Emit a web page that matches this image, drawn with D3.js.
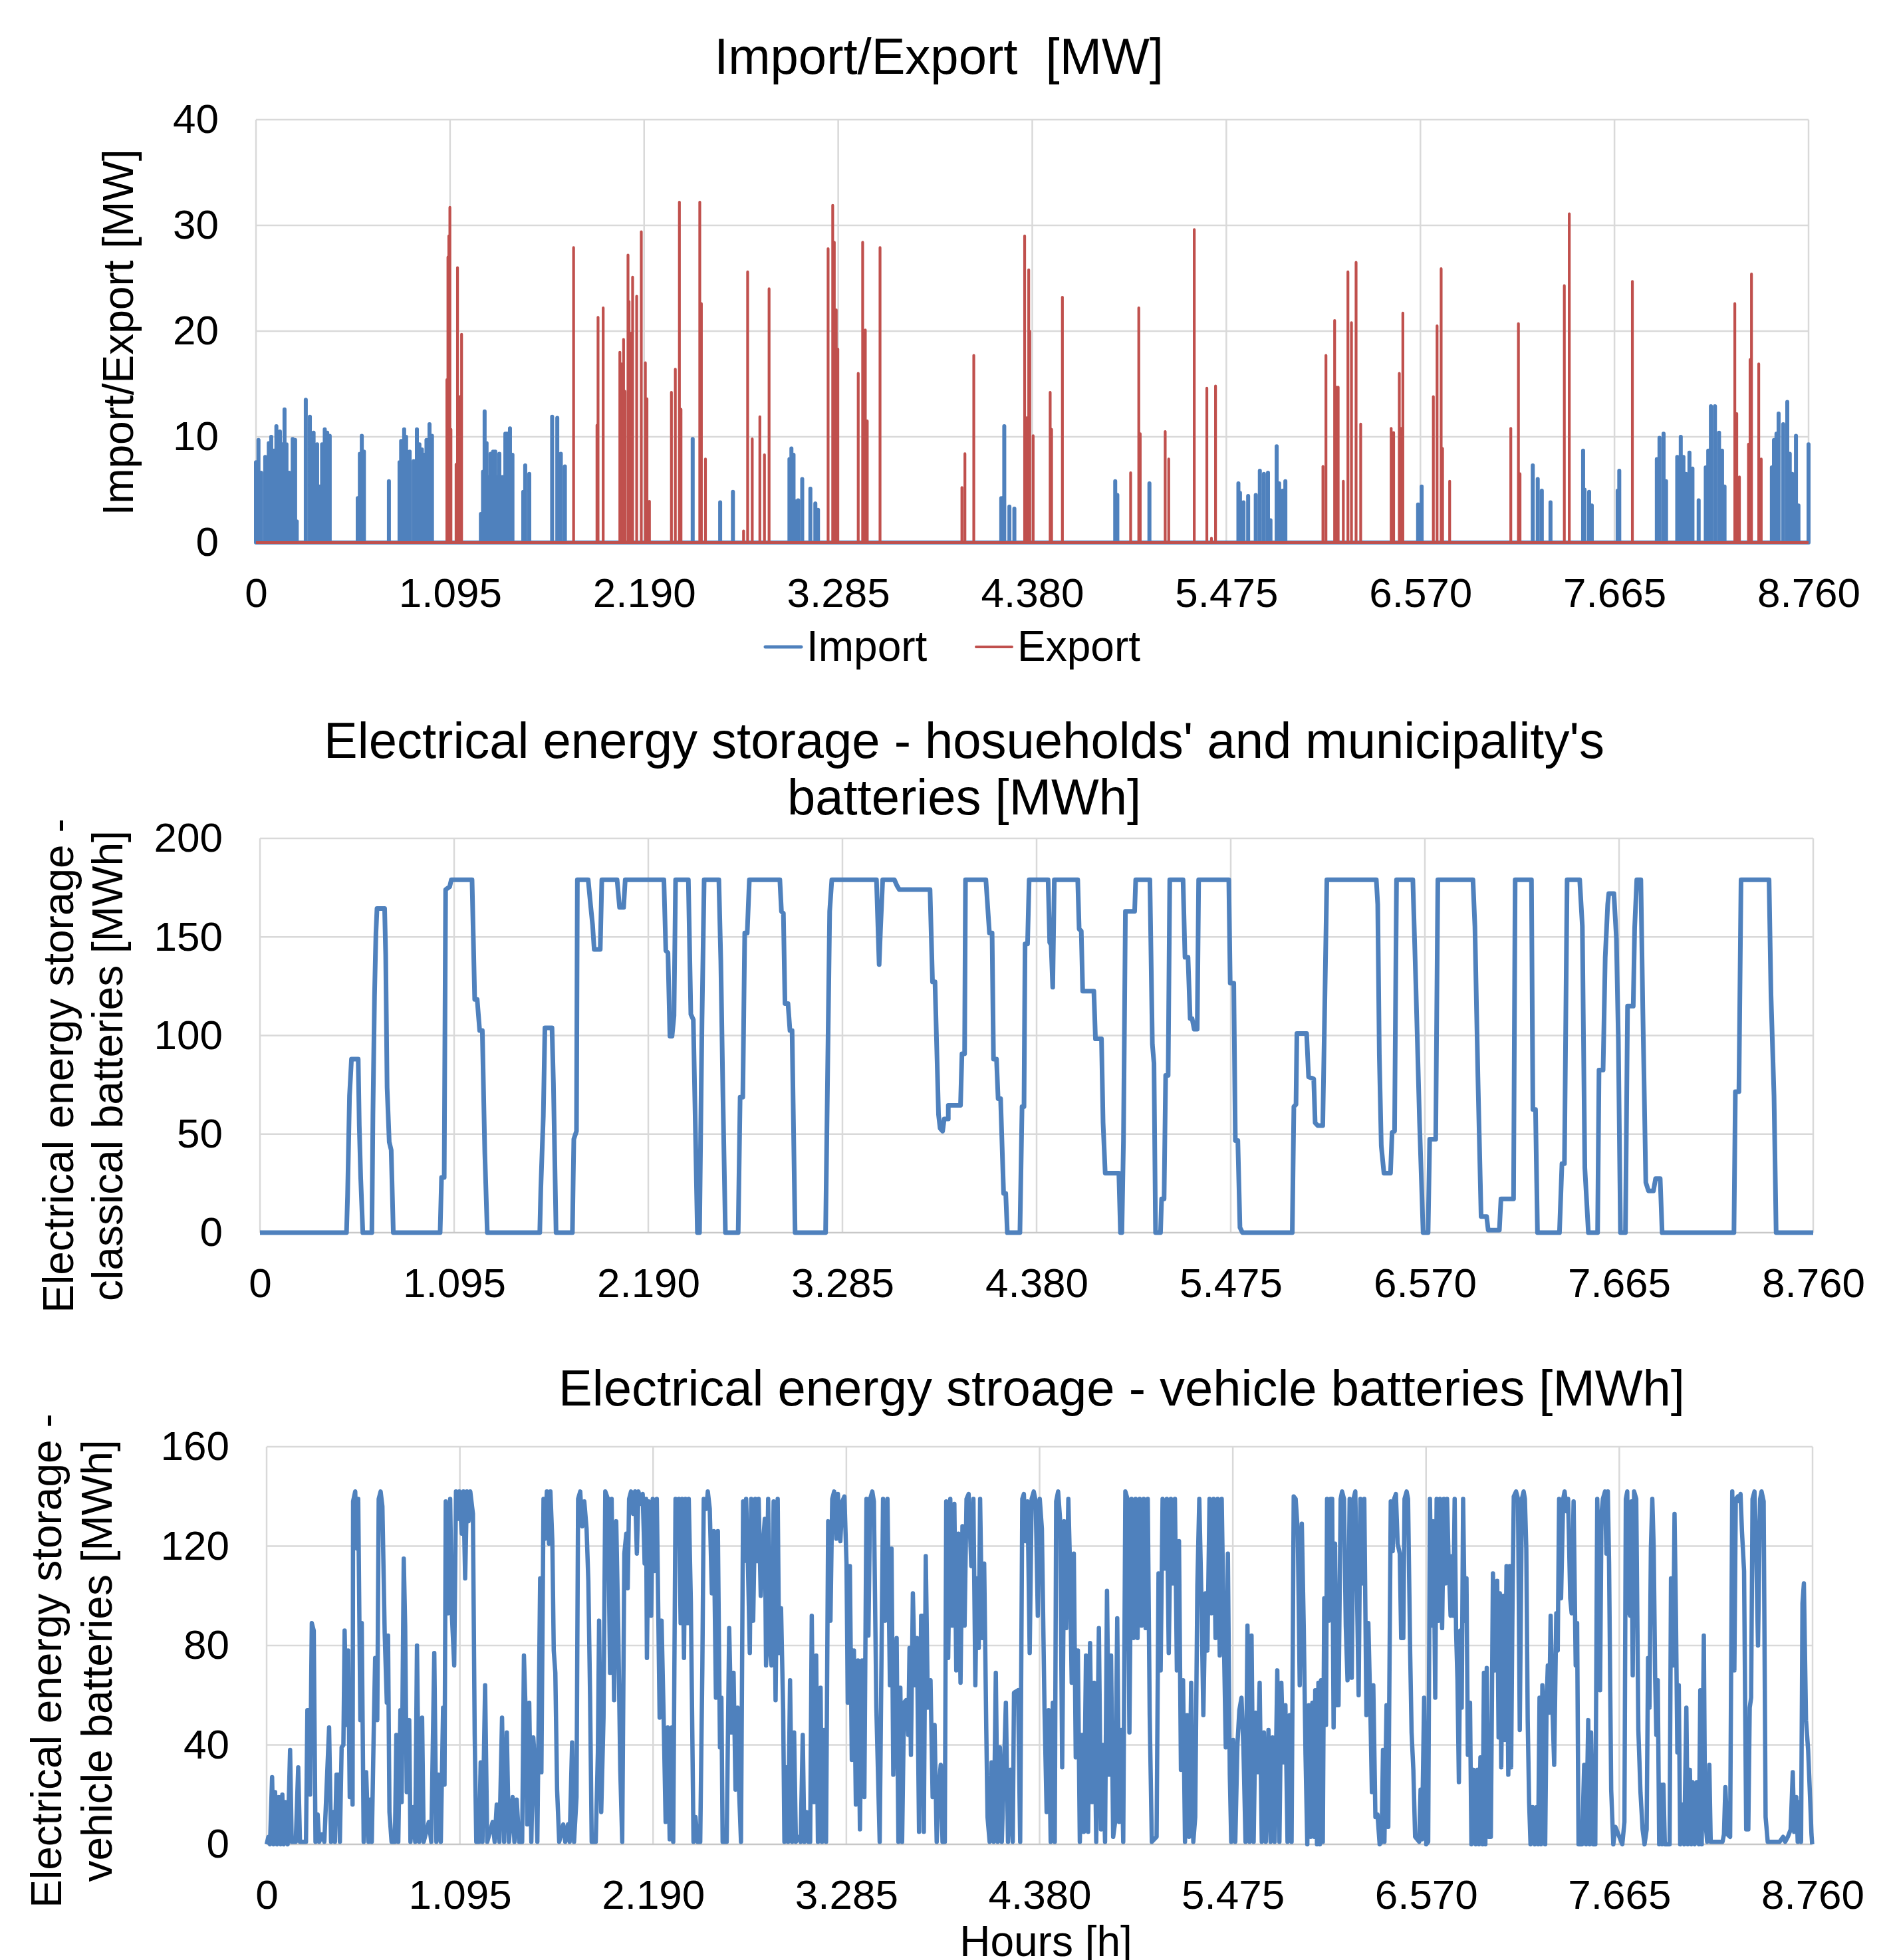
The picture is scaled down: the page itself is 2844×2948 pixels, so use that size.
<!DOCTYPE html>
<html>
<head>
<meta charset="utf-8">
<script src="https://cdn.jsdelivr.net/npm/d3@7"></script>
<style>
  body { margin: 0; background: #fff; }
  text { font-family: "Liberation Sans", Arial, sans-serif; fill: #000; }
</style>
</head>
<body>
<svg id="chart" width="2844" height="2948"></svg>
<script>
/**
 * Import/Export and battery storage, hourly over one year
 */

var hourTicks = [0, 1095, 2190, 3285, 4380, 5475, 6570, 7665, 8760];
var flowTicks = [0, 10, 20, 30, 40];
var stationaryTicks = [0, 50, 100, 150, 200];
var vehicleTicks = [0, 40, 80, 120, 160];

// [hour, MW] peaks, the flow is 0 in between
var importSpikes = [
  [0,7.6],[14,9.7],[29,6.6],[52,8.1],[72,9.4],[86,10],[101,8.7],[115,11],[135,10.5],[149,9.3],[161,12.6],[172,9.3],[187,6.6],[207,9.8],[221,9.7],[230,2],
  [281,13.5],[304,11.9],[325,10.4],[345,9.3],[359,5.3],[373,9.3],[388,10.7],[402,10.4],[416,10.1],
  [574,4.2],[586,8.4],[597,10.1],[609,8.6],[750,5.8],
  [810,7.6],[819,9.6],[836,10.7],[847,10],[867,8.6],[890,7.7],[908,10.7],[922,9.3],[936,8.8],[948,8.3],[962,9.7],[979,11.2],[993,10.1],
  [1269,2.7],[1281,6.7],[1290,12.4],[1301,9.4],[1315,6.2],[1324,8.4],[1338,8.6],[1350,8.6],[1361,6.2],[1373,8.4],[1390,6.2],[1407,10.3],[1419,10.3],[1433,10.8],[1447,8.3],
  [1508,4.8],[1519,7.3],[1542,6.5],[1671,11.9],[1700,11.8],[1720,8.4],[1743,7.2],
  [2464,9.8],[2619,3.8],[2691,4.8],
  [3010,7.9],[3021,8.9],[3033,8.3],[3044,3.9],[3059,4],[3082,6],[3128,5.1],[3156,3.7],[3171,3.1],
  [4205,4.2],[4222,11],[4251,3.4],[4279,3.2],
  [4848,5.8],[4860,4.5],[5041,5.6],
  [5543,5.6],[5552,4.7],[5572,3.8],[5598,4.4],[5641,4.5],[5664,6.8],[5687,6.5],[5710,6.6],[5724,2.1],[5759,9.1],[5773,5.6],[5793,4.9],[5808,5.8],
  [6557,3.6],[6577,5.3],
  [7204,7.3],[7232,6],[7255,4.9],[7304,3.8],
  [7488,8.7],[7496,5],[7522,4.8],[7537,3.5],[7683,4.9],[7692,6.8],
  [7904,7.9],[7919,9.9],[7942,10.3],[7956,5.8],[8019,8.1],[8039,10],[8054,8.1],[8068,6.5],[8088,8.5],[8105,7],[8140,4],
  [8180,7.1],[8194,8.7],[8209,12.9],[8232,12.9],[8255,10.4],[8272,8.7],[8286,5.3],
  [8553,7.1],[8565,9.7],[8579,10.3],[8591,12.2],[8617,11.2],[8640,13.3],[8654,8.4],[8668,6.5],[8689,10.1],[8703,3.5],[8760,9.3]
];

var exportSpikes = [
  [1077,15.4],[1083,27],[1088,29],[1094,31.7],[1100,10.7],[1129,7.4],[1137,26],[1149,13.8],[1160,19.7],
  [1792,27.9],[1924,11.1],[1930,21.3],[1959,22.2],
  [2053,18],[2062,16.9],[2074,19.2],[2082,14.3],[2099,27.2],[2105,22.8],[2117,19.8],[2125,25.1],[2148,23.3],[2174,29.4],[2197,17],[2206,13.6],[2220,3.9],
  [2344,14.2],[2366,16.4],[2389,32.2],[2398,12.6],[2504,32.2],[2513,22.6],[2536,7.9],
  [2751,1.1],[2774,25.6],[2800,9.8],[2843,11.9],[2869,8.3],[2895,24],
  [3228,27.8],[3254,31.9],[3263,28.4],[3274,22],[3283,18.3],[3398,16],[3423,28.4],[3438,20.1],[3449,11.5],[3521,27.9],
  [3983,5.2],[4000,8.4],[4050,17.7],
  [4337,29],[4348,11.8],[4360,25.8],[4366,20],[4385,10.1],[4481,14.2],[4489,10.7],[4550,23.2],
  [4935,6.6],[4981,22.2],[4989,10.3],[5130,10.5],[5150,7.9],[5294,29.6],[5365,14.6],[5391,0.4],[5414,14.8],
  [6020,7.2],[6037,17.7],[6086,21],[6098,14.7],[6106,14.7],[6135,5.8],[6161,25.6],[6181,20.8],[6207,26.5],[6233,11.2],
  [6405,10.8],[6419,10.4],[6451,16],[6460,10.8],[6471,21.7],[6643,13.8],[6664,20.5],[6687,25.9],[6695,8.9],[6735,5.8],
  [7080,10.8],[7123,20.7],[7132,6.5],[7382,24.3],[7410,31.1],[7766,24.7],
  [8344,22.6],[8355,12.2],[8370,6.2],[8421,9.3],[8430,17.3],[8438,25.4],[8479,16.9],[8493,7.9]
];

// households' and municipality's batteries [hour, MWh]
var stationarySoc = [
  [0,0],[488,0],[494,18.5],[505,69.4],[516,88],[554,88],[560,54.3],[568,28],[580,0],[631,0],[637,59.8],[646,120],[654,152],[660,164.4],[703,164.4],[709,141],[717,73.6],[729,46],[740,41.9],[752,0],
  [1016,0],[1024,28],[1039,28],[1047,174],[1070,175.5],[1079,179],[1196,179],[1211,118.3],[1225,118.3],[1239,102.5],[1254,102.5],[1268,40.5],[1282,0],
  [1578,0],[1584,22.6],[1598,59],[1607,103.9],[1647,103.9],[1655,76],[1670,0],[1762,0],[1770,47.4],[1785,51.5],[1790,179],[1851,179],[1865,165.8],[1876,156],[1885,143.7],[1919,143.7],[1928,179],
  [2014,179],[2028,165],[2051,165],[2060,179],[2278,179],[2289,143],[2301,142],[2312,99.7],[2324,99.7],[2335,110],[2344,179],[2416,179],[2430,110.8],[2444,108],[2467,0],[2479,0],[2493,108],[2505,179],
  [2588,179],[2599,138],[2611,69.4],[2625,0],[2697,0],[2708,68.7],[2723,68.7],[2734,152],[2748,152],[2760,179],[2932,179],[2941,163],[2952,162],[2961,116.2],[2978,116.2],[2989,102.5],[3001,102.5],[3018,0],
  [3190,0],[3213,163],[3225,179],[3477,179],[3492,136],[3500,154.6],[3512,179],[3578,179],[3592,176.1],[3606,174],[3779,174],[3793,127.2],[3807,127.2],[3827,59.8],[3836,52.9],[3850,51.5],[3859,57.7],[3882,57.7],[3882,64.6],[3951,64.6],[3959,90.7],[3974,90.7],[3979,179],
  [4094,179],[4114,152],[4129,152],[4137,88],[4154,88],[4163,68],[4177,68],[4194,19.9],[4206,19.9],[4215,0],[4286,0],[4298,63.9],[4309,63.9],[4315,146.5],[4329,146.5],[4338,179],
  [4445,179],[4454,147.2],[4462,146],[4471,124.5],[4480,179],[4612,179],[4620,154],[4632,153],[4640,122.5],[4703,122.5],[4712,98.3],[4746,98.3],[4755,55.7],[4767,30.2],[4844,30.2],[4853,0],[4861,0],[4870,46.7],[4881,163],[4933,163],[4939,179],
  [5019,179],[5033,95.6],[5042,86],[5051,0],[5079,0],[5085,17.1],[5099,17.1],[5108,79.8],[5122,79.8],[5131,179],[5206,179],[5217,139.7],[5234,139.7],[5246,108.6],[5257,108.6],[5269,103.2],[5286,103.2],[5294,179],
  [5464,179],[5472,126.6],[5492,126.6],[5501,46.7],[5515,46.7],[5527,2.6],[5541,0],[5822,0],[5831,63.9],[5843,65],[5848,101],[5903,101],[5914,79],[5943,78],[5951,55.7],[5966,54.3],[5994,54.3],[6017,179],
  [6296,179],[6304,166.5],[6313,90],[6324,44],[6339,30.2],[6376,30.2],[6385,50.9],[6399,51.5],[6410,179],[6502,179],[6519,126],[6540,55.7],[6560,0],[6588,0],[6597,47.4],[6631,47.4],[6643,179],
  [6841,179],[6852,155.4],[6869,79],[6887,8.2],[6918,8.2],[6927,1.3],[6990,1.3],[6999,17.1],[7070,17.1],[7079,179],[7171,179],[7179,62.5],[7194,62.5],[7205,0],[7329,0],[7343,35],[7357,35],[7372,179],
  [7443,179],[7458,155.4],[7472,32.9],[7492,0],[7544,0],[7552,82.5],[7575,82.5],[7587,139.7],[7601,166.5],[7607,172],[7636,172],[7650,149.3],[7661,98.3],[7673,0],[7701,0],[7713,114.9],[7745,114.9],[7753,154.6],[7765,179],
  [7788,179],[7799,113.5],[7816,25.4],[7831,21.2],[7859,21.2],[7871,27.4],[7897,27.4],[7908,0],[8313,0],[8321,71.5],[8341,71.5],[8353,179],[8511,179],[8522,120.4],[8539,69.4],[8551,0],[8760,0]
];

// vehicle batteries [hour, MWh]
var vehicleSoc = [
  [0,0],[10,3],[19,0],[31,27],[39,0],[48,21],[58,0],[69,19],[79,0],[89,20],[96,0],[106,17],[119,0],[133,38],[142,1],[165,1],[179,31],[189,1],[223,1],[231,54],[242,54],[246,20],[256,89],[267,86],[277,1],
  [289,12],[298,1],[314,4],[327,1],[354,47],[365,1],[377,13],[387,1],[396,28],[410,28],[415,1],[425,39],[435,40],[442,86],[452,48],[462,78],[471,19],[477,62],[487,16],[490,138],[502,142],[512,119],[519,139],
  [531,50],[539,89],[550,1],[564,29],[577,1],[587,18],[596,1],[608,50],[615,75],[627,50],[635,139],[646,142],[656,136],[669,85],[681,57],[688,84],[696,13],[708,1],[727,1],[735,44],[746,1],[758,54],[765,17],
  [777,115],[785,88],[794,21],[808,50],[815,1],[831,15],[842,1],[852,80],[865,1],[881,51],[890,1],[919,9],[933,1],[950,77],[962,1],[973,28],[987,1],[1000,55],[1008,24],[1015,138],[1029,93],[1040,139],
  [1050,92],[1063,72],[1073,142],[1085,131],[1092,142],[1106,125],[1115,142],[1125,107],[1135,142],[1144,130],[1154,142],[1169,133],[1179,44],[1188,1],[1204,1],[1213,33],[1223,1],[1238,64],[1250,1],
  [1281,9],[1292,1],[1304,16],[1319,1],[1334,51],[1346,1],[1361,45],[1373,1],[1394,19],[1404,1],[1417,18],[1431,1],[1448,1],[1458,76],[1469,50],[1477,8],[1488,57],[1500,1],[1511,43],[1523,30],[1534,1],
  [1550,107],[1557,29],[1569,139],[1577,123],[1588,142],[1600,121],[1608,142],[1619,122],[1627,78],[1636,69],[1646,22],[1658,1],[1681,8],[1692,1],[1708,8],[1717,1],[1731,41],[1742,1],[1756,19],
  [1765,139],[1777,142],[1788,128],[1800,138],[1813,127],[1823,106],[1833,59],[1842,1],[1865,1],[1877,37],[1884,90],[1896,13],[1909,51],[1919,142],[1934,139],[1946,69],[1955,139],[1969,58],[1981,130],
  [1992,89],[2004,30],[2015,1],[2027,117],[2038,125],[2046,103],[2054,139],[2065,142],[2077,133],[2088,142],[2098,117],[2107,142],[2121,137],[2131,141],[2142,113],[2150,139],[2155,75],[2165,138],
  [2179,92],[2188,139],[2200,110],[2211,139],[2227,51],[2238,90],[2250,50],[2261,9],[2273,47],[2284,2],[2296,47],[2304,1],[2317,139],[2327,124],[2336,139],[2346,89],[2354,139],[2365,75],[2373,139],
  [2384,89],[2392,139],[2404,97],[2419,1],[2430,11],[2442,1],[2457,1],[2469,71],[2477,139],[2492,135],[2500,142],[2511,135],[2523,101],[2534,126],[2546,59],[2557,126],[2569,39],[2577,59],[2584,1],
  [2607,1],[2621,87],[2634,45],[2646,69],[2657,22],[2669,55],[2677,22],[2688,1],[2700,138],[2707,114],[2717,139],[2727,114],[2738,77],[2746,139],[2757,90],[2769,139],[2780,114],[2788,139],[2800,100],
  [2813,121],[2823,131],[2830,72],[2842,139],[2852,78],[2861,72],[2873,138],[2884,58],[2896,139],[2904,77],[2915,95],[2927,54],[2934,1],
  [2945,31],[2955,1],[2966,66],[2978,1],[2989,45],[2999,1],[3013,3],[3026,1],[3038,44],[3047,1],[3059,13],[3070,1],[3080,1],[3089,92],[3101,17],[3114,76],[3124,1],[3139,63],[3147,1],[3159,46],[3170,1],
  [3182,130],[3195,90],[3205,139],[3216,142],[3228,123],[3237,141],[3251,122],[3262,138],[3274,140],[3286,113],[3293,57],[3305,112],[3316,34],[3328,78],[3339,16],[3351,74],[3362,6],[3374,74],[3387,19],
  [3399,139],[3410,84],[3420,139],[3432,142],[3441,138],[3455,55],[3474,1],[3493,139],[3505,90],[3518,139],[3532,64],[3541,119],[3551,28],[3562,63],[3570,83],[3580,1],[3591,63],[3601,1],[3612,57],
  [3624,58],[3636,44],[3643,79],[3651,36],[3662,101],[3674,64],[3685,83],[3697,5],[3709,92],[3716,92],[3724,5],[3735,116],[3747,55],[3762,66],[3774,19],[3785,48],[3797,1],[3809,23],[3820,32],[3830,1],
  [3843,1],[3851,138],[3862,75],[3874,139],[3885,88],[3897,137],[3908,70],[3920,125],[3932,65],[3943,128],[3955,88],[3966,139],[3978,141],[3993,112],[4005,139],[4016,64],[4024,107],[4035,79],[4043,139],
  [4055,83],[4066,113],[4078,46],[4085,11],[4097,1],[4108,33],[4120,1],[4132,69],[4143,1],[4155,39],[4166,1],[4189,57],[4201,1],[4216,30],[4228,1],[4235,61],[4258,62],[4270,1],[4282,139],[4291,141],
  [4301,122],[4312,138],[4324,77],[4335,139],[4347,142],[4358,138],[4370,92],[4381,139],[4393,127],[4408,54],[4420,13],[4431,54],[4443,1],[4455,57],[4466,1],[4474,138],[4485,142],[4497,130],[4508,31],
  [4520,130],[4531,87],[4543,139],[4551,116],[4562,65],[4574,117],[4585,35],[4597,78],[4608,1],[4620,44],[4631,5],[4643,76],[4655,5],[4666,81],[4678,17],[4689,65],[4701,1],[4716,87],[4728,6],[4739,40],
  [4751,1],[4762,102],[4774,28],[4785,76],[4797,3],[4808,9],[4820,91],[4831,9],[4843,46],[4854,1],[4866,142],[4878,139],[4889,45],[4901,139],[4912,83],[4924,139],[4935,83],[4947,139],[4958,88],[4970,139],
  [4981,87],[4993,139],[5004,52],[5016,1],[5043,3],[5054,109],[5066,70],[5077,139],[5089,111],[5101,139],[5112,77],[5124,139],[5135,105],[5147,139],[5158,70],[5170,122],[5181,30],[5193,66],[5204,1],
  [5216,52],[5227,3],[5239,65],[5251,1],[5262,11],[5274,104],[5285,139],[5297,99],[5308,52],[5320,101],[5331,78],[5343,139],[5354,93],[5366,139],[5377,83],[5389,139],[5401,76],[5412,139],[5424,84],
  [5435,39],[5447,117],[5458,28],[5466,1],[5477,42],[5489,1],[5501,40],[5512,54],[5524,59],[5535,39],[5547,1],[5558,88],[5570,1],[5581,84],[5593,1],[5604,53],[5616,29],[5627,65],[5639,1],[5651,45],
  [5662,1],[5677,46],[5689,1],[5700,43],[5712,1],[5727,70],[5739,1],[5750,65],[5762,33],[5773,56],[5785,1],[5797,52],[5808,1],[5820,140],[5831,139],[5843,126],[5854,64],[5866,129],
  [5877,87],[5887,36],[5897,0],[5906,56],[5916,3],[5926,57],[5936,3],[5942,62],[5952,0],[5960,65],[5968,0],[5975,66],[5985,1],[5993,99],[6003,48],[6009,139],[6019,90],[6029,139],[6038,139],[6046,47],
  [6054,121],[6064,56],[6074,56],[6086,139],[6094,142],[6105,139],[6115,88],[6125,66],[6137,139],[6149,67],[6159,139],[6169,142],[6178,104],[6188,60],[6198,139],[6208,105],[6220,139],[6232,52],
  [6243,89],[6255,52],[6263,21],[6271,64],[6283,11],[6295,12],[6307,0],[6318,1],[6326,38],[6334,1],[6346,56],[6356,7],[6370,138],[6381,118],[6389,139],[6399,141],[6409,121],[6421,117],[6429,83],
  [6441,83],[6448,139],[6460,142],[6468,139],[6480,77],[6488,45],[6498,30],[6508,3],[6531,1],[6539,22],[6547,2],[6559,59],[6571,0],[6582,1],[6592,139],[6602,88],[6612,130],[6622,59],[6630,139],
  [6642,90],[6649,139],[6661,87],[6671,139],[6681,105],[6689,139],[6697,116],[6709,92],[6717,116],[6724,92],[6732,139],[6740,86],[6748,66],[6756,25],[6764,86],[6772,55],[6780,139],[6789,90],
  [6799,107],[6807,36],[6819,57],[6827,0],[6839,30],[6851,0],[6862,30],[6870,0],[6878,35],[6890,0],[6898,69],[6906,0],[6914,71],[6925,3],[6937,3],[6949,109],[6961,70],[6973,106],[6981,43],[6988,101],
  [6996,31],[7008,100],[7016,42],[7026,112],[7036,28],[7044,112],[7052,31],[7059,90],[7067,140],[7080,142],[7091,139],[7101,46],[7113,139],[7123,142],[7130,139],[7138,119],[7146,50],[7154,17],
  [7162,0],[7174,15],[7186,0],[7197,15],[7205,0],[7213,59],[7221,0],[7229,64],[7237,52],[7245,0],[7253,57],[7260,72],[7268,53],[7276,92],[7286,55],[7296,32],[7308,93],[7316,78],[7324,139],[7335,99],
  [7347,139],[7355,142],[7367,134],[7375,139],[7387,99],[7395,93],[7406,138],[7418,72],[7426,89],[7434,0],[7454,0],[7466,32],[7477,0],[7489,50],[7497,0],[7505,45],[7517,0],[7529,0],[7540,139],
  [7548,110],[7556,62],[7564,133],[7572,139],[7584,142],[7592,117],[7600,142],[7607,113],[7619,22],[7631,0],[7643,7],[7682,0],[7694,9],[7702,139],[7710,142],[7718,94],[7726,92],[7734,138],[7741,68],
  [7749,142],[7761,139],[7773,46],[7785,21],[7797,6],[7808,0],[7820,6],[7828,75],[7836,55],[7844,119],[7852,139],[7860,119],[7868,68],[7875,44],[7883,66],[7891,0],[7899,24],[7907,0],[7915,24],[7923,0],
  [7950,0],[7958,107],[7970,72],[7978,133],[7986,92],[7994,37],[8002,64],[8010,0],[8021,16],[8033,0],[8045,55],[8053,0],[8065,30],[8073,0],[8080,25],[8092,0],[8104,25],[8116,0],[8124,62],[8132,0],
  [8144,84],[8151,11],[8163,1],[8175,32],[8183,1],[8250,1],[8258,4],[8266,23],[8278,4],[8293,3],[8305,142],[8317,70],[8325,139],[8337,140],[8345,138],[8352,141],[8360,126],[8372,110],[8384,6],[8396,6],
  [8404,55],[8412,59],[8420,139],[8431,142],[8439,125],[8451,80],[8463,139],[8471,142],[8483,138],[8494,11],[8506,1],[8573,1],[8593,3],[8605,1],[8620,3],[8636,6],[8648,29],[8656,5],[8668,19],
  [8676,1],[8684,17],[8695,1],[8703,97],[8711,105],[8723,50],[8735,38],[8747,17],[8754,4],[8758,0]
];

var importColor = '#4f81bd', exportColor = '#c0504d';
var gridColor = '#d9d9d9';

var svg = d3.select('#chart');
svg.append('rect').attr('width', 2844).attr('height', 2948).attr('fill', '#fff');

var hourFormat = d3.formatLocale({decimal: ',', thousands: '.', grouping: [3], currency: ['', '']}).format(',');

function panel(o) {
  var x = d3.scaleLinear().domain([0, 8760]).range([o.left, o.right]);
  var y = d3.scaleLinear().domain([0, o.ticks[o.ticks.length - 1]]).range([o.bottom, o.top]);
  var g = svg.append('g');

  g.selectAll('line.vgrid').data(hourTicks).join('line')
      .attr('class', 'vgrid')
      .attr('x1', function(d) { return x(d); }).attr('x2', function(d) { return x(d); })
      .attr('y1', o.top).attr('y2', o.bottom)
      .attr('stroke', gridColor).attr('stroke-width', 2.5);
  g.selectAll('line.hgrid').data(o.ticks).join('line')
      .attr('class', 'hgrid')
      .attr('x1', o.left).attr('x2', o.right)
      .attr('y1', function(d) { return y(d); }).attr('y2', function(d) { return y(d); })
      .attr('stroke', function(d) { return d === 0 ? '#c8c8c8' : gridColor; })
      .attr('stroke-width', 2.5);

  var xa = g.append('g').attr('transform', 'translate(0,' + o.bottom + ')')
      .call(d3.axisBottom(x).tickValues(hourTicks).tickFormat(hourFormat).tickSize(0).tickPadding(53));
  var ya = g.append('g').attr('transform', 'translate(' + o.left + ',0)')
      .call(d3.axisLeft(y).tickValues(o.ticks).tickSize(0).tickPadding(56));
  [xa, ya].forEach(function(a) {
    a.select('.domain').remove();
    a.attr('font-size', 62).attr('font-family', '"Liberation Sans", Arial, sans-serif');
  });

  var line = d3.line()
      .x(function(d) { return x(d[0]); })
      .y(function(d) { return y(d[1]); });
  return {x: x, y: y, g: g, line: line};
}

function spikeSeries(spikes) {
  var pts = [[0, 0]];
  spikes.forEach(function(d) { pts.push([d[0], 0], d, [d[0], 0]); });
  pts.push([8760, 0]);
  return pts;
}

function label(lines, x, y, size, rotate, lineGap) {
  var t = svg.append('text')
      .attr('text-anchor', 'middle')
      .attr('font-size', size)
      .style('white-space', 'pre')
      .attr('transform', 'translate(' + x + ',' + y + ')' + (rotate ? ' rotate(-90)' : ''));
  lines.forEach(function(s, i) {
    t.append('tspan').attr('x', 0).attr('y', i * (lineGap || 0)).text(s);
  });
}

// Import / Export
var p1 = panel({left: 385, right: 2720, top: 180, bottom: 816, ticks: flowTicks});
p1.g.append('path').datum(spikeSeries(importSpikes))
    .attr('d', p1.line).attr('fill', 'none')
    .attr('stroke', importColor).attr('stroke-width', 6).attr('stroke-linejoin', 'round');
p1.g.append('path').datum(spikeSeries(exportSpikes))
    .attr('d', p1.line).attr('fill', 'none')
    .attr('stroke', exportColor).attr('stroke-width', 4.2).attr('stroke-linejoin', 'round');

label(['Import/Export  [MW]'], 1412, 111, 76);
label(['Import/Export [MW]'], 200, 500, 64, true);

var legend = [{name: 'Import', color: importColor, x: 1151, w: 5}, {name: 'Export', color: exportColor, x: 1468, w: 4}];
var lg = svg.append('g').selectAll('g').data(legend).join('g')
    .attr('transform', function(d) { return 'translate(' + d.x + ',973)'; });
lg.append('line').attr('x1', 0).attr('x2', 54)
    .attr('stroke', function(d) { return d.color; })
    .attr('stroke-width', function(d) { return d.w; })
    .attr('stroke-linecap', 'round');
lg.append('text').attr('x', 62).attr('y', 21).attr('font-size', 64)
    .text(function(d) { return d.name; });

// households' and municipality's batteries
var p2 = panel({left: 391, right: 2727, top: 1261, bottom: 1854, ticks: stationaryTicks});
p2.g.append('path').datum(stationarySoc)
    .attr('d', p2.line).attr('fill', 'none')
    .attr('stroke', importColor).attr('stroke-width', 7).attr('stroke-linejoin', 'round');

label(["Electrical energy storage - hosueholds' and municipality's", 'batteries [MWh]'], 1450, 1140, 76, false, 85);
label(['Electrical energy storage -', 'classical batteries [MWh]'], 110, 1603, 64, true, 74);

// vehicle batteries
var p3 = panel({left: 401, right: 2726, top: 2176, bottom: 2774, ticks: vehicleTicks});
p3.g.append('path').datum(vehicleSoc)
    .attr('d', p3.line).attr('fill', 'none')
    .attr('stroke', importColor).attr('stroke-width', 6.5).attr('stroke-linejoin', 'round');

label(['Electrical energy stroage - vehicle batteries [MWh]'], 1687, 2114, 76);
label(['Electrical energy storage -', 'vehicle batteries [MWh]'], 92, 2498, 64, true, 76);
label(['Hours [h]'], 1573, 2942, 64);
</script>
</body>
</html>
